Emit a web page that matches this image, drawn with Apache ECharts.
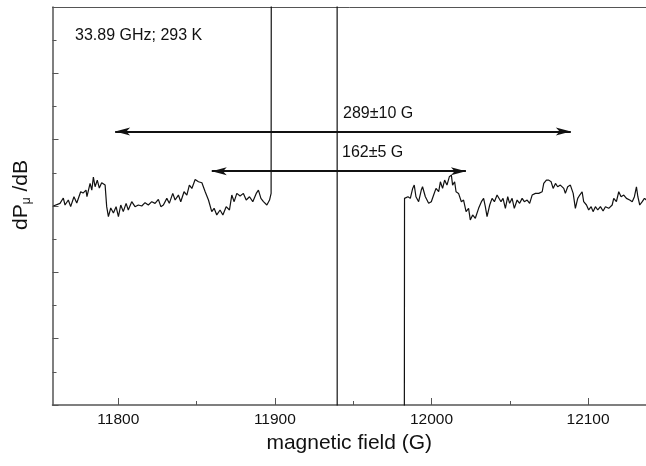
<!DOCTYPE html>
<html>
<head>
<meta charset="utf-8">
<script src="https://cdn.jsdelivr.net/npm/echarts@6/dist/echarts.min.js"></script>
<style>html,body{margin:0;padding:0;background:#fff}#c{width:646px;height:466px}</style>
</head>
<body>
<div id="c"></div>
<script>
// magnetic field (G) and signal (arb. units)
const fieldG = [11758.5,11762.8,11764.9,11766.0,11768.1,11769.6,11771.7,11773.5,11776.0,11777.5,11779.4,11780.0,11782.0,11783.1,11784.1,11785.2,11786.6,11787.9,11789.4,11791.6,11792.6,11793.7,11795.2,11796.9,11798.6,11800.1,11801.6,11803.2,11805.0,11806.4,11808.6,11810.7,11812.8,11815.0,11817.1,11819.2,11821.4,11823.5,11825.6,11827.2,11828.8,11831.0,11832.6,11834.8,11836.3,11838.4,11839.9,11842.0,11843.8,11845.4,11847.0,11849.1,11851.2,11853.4,11855.5,11857.6,11859.7,11861.2,11862.9,11865.0,11866.8,11868.9,11871.0,11872.5,11874.0,11875.7,11877.8,11879.9,11881.7,11883.8,11885.9,11888.1,11889.5,11891.1,11892.7,11894.9,11896.6,11897.6,
  11898.0,11939.7,11939.9,11982.2,
  11982.8,11985.0,11986.5,11988.0,11989.0,11990.1,11991.8,11993.5,11994.3,11996.1,11998.2,11999.9,12001.4,12002.9,12004.6,12005.7,12007.1,12008.4,12009.9,12011.4,12012.7,12013.5,12014.8,12015.7,12017.3,12019.1,12020.5,12022.1,12023.7,12024.8,12026.3,12028.0,12030.1,12031.9,12033.3,12034.4,12035.5,12037.2,12038.7,12040.2,12041.9,12042.9,12044.4,12045.7,12047.2,12048.7,12049.9,12051.5,12052.9,12054.7,12056.3,12057.9,12059.3,12061.1,12062.7,12064.3,12066.4,12068.5,12070.7,12071.7,12073.4,12074.9,12076.4,12077.7,12079.2,12080.6,12082.3,12084.5,12085.5,12087.0,12088.7,12090.5,12091.9,12093.4,12094.7,12096.2,12097.2,12099.0,12100.4,12102.0,12103.2,12104.7,12106.2,12107.9,12109.6,12111.1,12113.2,12115.4,12116.4,12118.1,12119.6,12121.1,12122.8,12124.5,12126.6,12128.2,12129.6,12130.9,12131.8,12133.0,12134.6,12136.0,12137.3];
const signal = [6.00,6.08,6.24,6.03,6.18,5.98,6.28,6.09,6.43,6.39,6.48,6.28,6.68,6.48,6.87,6.58,6.78,6.54,6.70,6.63,5.98,5.68,5.94,5.79,5.98,5.68,6.03,5.83,6.08,5.88,6.13,5.98,6.03,6.00,6.10,6.03,6.13,6.08,6.20,5.98,6.03,6.23,6.08,6.38,6.18,6.33,6.13,6.43,6.33,6.63,6.53,6.80,6.73,6.70,6.43,6.18,5.83,5.93,5.73,5.88,5.73,5.98,5.88,6.33,6.13,6.38,6.30,6.38,6.18,6.28,6.13,6.38,6.48,6.23,6.13,6.03,6.18,6.38,
  30,30,-30,-30,
  6.23,6.28,6.23,6.53,6.63,6.28,6.13,6.48,6.58,6.28,6.08,6.13,6.33,6.53,6.43,6.73,6.53,6.78,6.63,6.88,6.93,6.63,6.73,6.43,6.38,6.13,6.18,5.83,5.93,5.58,5.73,5.63,5.93,6.13,6.23,5.98,5.68,6.03,6.23,6.13,6.33,6.38,6.13,6.23,5.93,6.28,6.08,6.23,5.93,6.18,6.08,6.23,6.13,6.18,6.08,6.33,6.38,6.38,6.43,6.68,6.78,6.78,6.73,6.53,6.68,6.58,6.63,6.53,6.38,6.58,6.63,6.38,5.93,6.23,6.33,6.43,6.13,6.03,5.88,5.98,5.83,5.98,5.88,5.98,5.85,5.98,5.93,6.03,6.23,6.13,6.43,6.28,6.33,6.23,6.18,6.13,6.28,6.58,6.28,6.03,6.13,6.23,6.18];
const xTickLabels = [11800, 11900, 12000, 12100];
const xMinorTicks = [11850, 11950, 12050];
const xRange = [11758, 12137];
const yRange = [0, 12];
// double-headed arrows: [left end, right end, level]
const arrowStarts = [11798, 11859.7];
const arrowEnds = [12089, 12022];
const arrowLevels = [8.25, 7.05];
const arrowTexts = ['289\u00b110 G', '162\u00b15 G'];
const infoText = '33.89 GHz; 293 K';

const axisColor = '#555';
const FONT = 'Liberation Sans, Arial, sans-serif';
const chart = echarts.init(document.getElementById('c'));
const pts = fieldG.map((x, i) => [x, signal[i]]);
const arrowLines = arrowStarts.map((s, i) => [{coord: [s, arrowLevels[i]]}, {coord: [arrowEnds[i], arrowLevels[i]]}]);

chart.setOption({
  animation: false,
  backgroundColor: '#fff',
  grid: {left: 52.5, right: 0, top: 7, bottom: 61},
  xAxis: [{
    type: 'value', min: xRange[0], max: xRange[1],
    position: 'bottom',
    name: 'magnetic field (G)', nameLocation: 'middle', nameGap: 28,
    nameTextStyle: {fontFamily: FONT, fontSize: 21, color: '#111'},
    axisLine: {lineStyle: {color: axisColor, width: 1.5}},
    axisTick: {inside: true, length: 7, customValues: xTickLabels, lineStyle: {color: axisColor, width: 1}},
    axisLabel: {customValues: xTickLabels, margin: 7, fontFamily: FONT, fontSize: 15.5, color: '#111',
      formatter: v => String(v)},
    splitLine: {show: false}
  }, {
    type: 'value', min: xRange[0], max: xRange[1],
    position: 'bottom', gridIndex: 0,
    axisLine: {show: false},
    axisTick: {inside: true, length: 4, customValues: xMinorTicks, lineStyle: {color: axisColor, width: 1}},
    axisLabel: {show: false},
    splitLine: {show: false}
  }, {
    type: 'value', min: xRange[0], max: xRange[1],
    position: 'top', gridIndex: 0,
    axisLine: {show: true, lineStyle: {color: axisColor, width: 1}},
    axisTick: {show: false}, axisLabel: {show: false}, splitLine: {show: false}
  }],
  yAxis: {
    type: 'value', min: yRange[0], max: yRange[1], interval: 2,
    axisLine: {show: true, lineStyle: {color: axisColor, width: 1.5}},
    axisTick: {show: true, inside: true, length: 6, lineStyle: {color: axisColor}},
    minorTick: {show: true, splitNumber: 2, length: 4, lineStyle: {color: axisColor}},
    axisLabel: {show: false},
    splitLine: {show: false}
  },
  graphic: [
    {type: 'text', left: 75, top: 28, style: {text: infoText, fontFamily: FONT, fontSize: 16, fill: '#111'}},
    {type: 'text', left: 343, top: 106, style: {text: arrowTexts[0], fontFamily: FONT, fontSize: 16, fill: '#111'}},
    {type: 'text', left: 342, top: 145, style: {text: arrowTexts[1], fontFamily: FONT, fontSize: 16, fill: '#111'}},
    {type: 'text', x: 21, y: 195, rotation: Math.PI / 2,
      style: {text: '{a|dP}{b|\u03bc}{a| /dB}', align: 'center', verticalAlign: 'middle',
        fill: '#111', fontFamily: FONT,
        rich: {a: {fontSize: 21, fontFamily: FONT, fill: '#111', lineHeight: 24},
               b: {fontSize: 12, fontFamily: FONT, fill: '#111', verticalAlign: 'bottom', lineHeight: 16}}}}
  ],
  series: [{
    type: 'line', data: pts, xAxisIndex: 0,
    showSymbol: false, symbol: 'none', clip: true,
    lineStyle: {color: '#111', width: 1.2},
    markLine: {
      silent: true, symbol: ['arrow', 'arrow'], symbolSize: [6, 15],
      label: {show: false},
      lineStyle: {color: '#111', width: 1.8, type: 'solid'},
      data: arrowLines
    }
  }]
});
</script>
</body>
</html>
